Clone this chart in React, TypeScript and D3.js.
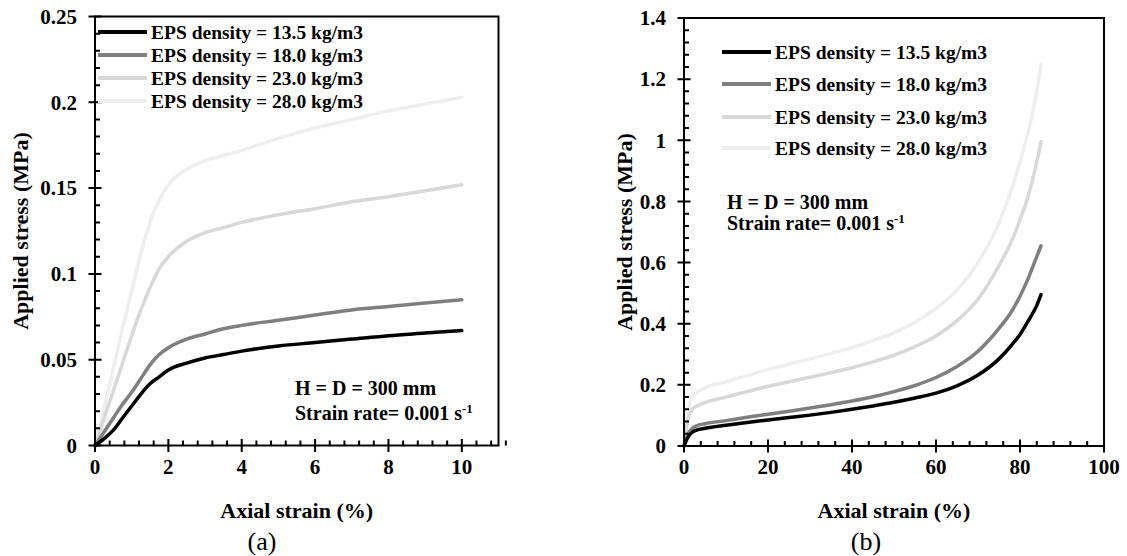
import React from 'react';
import * as d3 from 'd3';

const seriesNames = [
  'EPS density = 13.5 kg/m3',
  'EPS density = 18.0 kg/m3',
  'EPS density = 23.0 kg/m3',
  'EPS density = 28.0 kg/m3',
];
const seriesColors = ['#000000', '#7f7f7f', '#d8d8d8', '#eeeeee'];
const AXIS_COLOR = '#000000';

// Panel (a): small strain range
const strainA = [0, 0.25, 0.5, 0.75, 1.0, 1.25, 1.5, 1.75, 2, 2.5, 3, 3.5, 4, 5, 6, 7, 8, 9, 10];
const stressA135 = [0, 0.004, 0.009, 0.016, 0.023, 0.030, 0.036, 0.040, 0.044, 0.048, 0.051, 0.053, 0.055, 0.058, 0.060, 0.062, 0.064, 0.0655, 0.067];
const stressA180 = [0, 0.008, 0.016, 0.024, 0.031, 0.039, 0.047, 0.053, 0.057, 0.062, 0.065, 0.068, 0.070, 0.073, 0.076, 0.079, 0.081, 0.083, 0.085];
const stressA230 = [0, 0.016, 0.032, 0.048, 0.064, 0.079, 0.092, 0.103, 0.110, 0.119, 0.124, 0.127, 0.130, 0.1345, 0.138, 0.142, 0.145, 0.1485, 0.152];
const stressA280 = [0, 0.022, 0.045, 0.068, 0.090, 0.112, 0.130, 0.143, 0.152, 0.161, 0.166, 0.169, 0.172, 0.179, 0.185, 0.190, 0.195, 0.199, 0.203];

// Panel (b): full strain range
const strainB = [0, 1, 2, 3, 5, 10, 15, 20, 25, 30, 35, 40, 45, 50, 55, 60, 65, 70, 75, 78, 80, 82, 84, 85];
const stressB135 = [0, 0.03, 0.045, 0.052, 0.058, 0.068, 0.077, 0.085, 0.093, 0.101, 0.110, 0.120, 0.131, 0.143, 0.157, 0.173, 0.197, 0.232, 0.285, 0.33, 0.365, 0.41, 0.46, 0.495];
const stressB180 = [0, 0.04, 0.058, 0.066, 0.073, 0.083, 0.094, 0.104, 0.114, 0.124, 0.135, 0.147, 0.161, 0.178, 0.198, 0.224, 0.26, 0.31, 0.385, 0.44, 0.49, 0.55, 0.62, 0.655];
const stressB230 = [0, 0.09, 0.12, 0.13, 0.142, 0.16, 0.178, 0.195, 0.21, 0.225, 0.24, 0.256, 0.275, 0.297, 0.325, 0.36, 0.41, 0.48, 0.59, 0.67, 0.74, 0.82, 0.93, 0.995];
const stressB280 = [0, 0.12, 0.16, 0.175, 0.19, 0.21, 0.23, 0.25, 0.268, 0.285, 0.303, 0.322, 0.345, 0.37, 0.405, 0.45, 0.51, 0.6, 0.73, 0.84, 0.93, 1.03, 1.16, 1.25];

const xTicksA = [0, 2, 4, 6, 8, 10];
const yTicksA = [0, 0.05, 0.1, 0.15, 0.2, 0.25];
const xTicksB = [0, 20, 40, 60, 80, 100];
const yTicksB = [0, 0.2, 0.4, 0.6, 0.8, 1, 1.2, 1.4];

const FONT = '"Liberation Serif", "Times New Roman", serif';

type PanelProps = {
  xDomain: [number, number];
  yDomain: [number, number];
  xRange: [number, number];
  yRange: [number, number];
  xTicks: number[];
  yTicks: number[];
  xMinorStep: number;
  yMinorStep: number;
  xs: number[];
  series: number[][];
  legend: { x0: number; x1: number; tx: number; ys: number[] };
  note: { x: number; y1: number; y2: number };
  yTitleX: number;
  xTitleY: number;
  label: string;
  labelX: number;
};

function Panel(p: PanelProps) {
  const x = d3.scaleLinear().domain(p.xDomain).range(p.xRange);
  const y = d3.scaleLinear().domain(p.yDomain).range(p.yRange);
  const curveGen = d3
    .line<number>()
    .x((_, i) => x(p.xs[i]))
    .y((d) => y(d))
    .curve(d3.curveMonotoneX);
  const nxm = Math.round((p.xDomain[1] - p.xDomain[0]) / p.xMinorStep);
  const nym = Math.round((p.yDomain[1] - p.yDomain[0]) / p.yMinorStep);
  const xMinor = d3.range(0, nxm + 1).map((i) => p.xDomain[0] + i * p.xMinorStep);
  const yMinor = d3.range(0, nym + 1).map((i) => p.yDomain[0] + i * p.yMinorStep);
  const [xl, xr] = p.xRange;
  const [yb, yt] = p.yRange;
  const fmt = (v: number) => String(+v.toFixed(3));
  const tl = 6.5;
  const ml = 5;

  let tickPath = '';
  xMinor.forEach((v) => {
    tickPath += `M${x(v)},${yb}V${yb - ml}`;
  });
  yMinor.forEach((v) => {
    tickPath += `M${xl},${y(v)}H${xl + ml}`;
  });
  p.xTicks.forEach((v) => {
    tickPath += `M${x(v)},${yb - tl}V${yb + tl}`;
  });
  p.yTicks.forEach((v) => {
    tickPath += `M${xl - tl},${y(v)}H${xl + tl}`;
  });

  return (
    <g>
      {p.series
        .map((s, i) => ({ s, i }))
        .reverse()
        .map(({ s, i }) => (
          <path key={'c' + i} d={curveGen(s) || ''} fill="none" stroke={seriesColors[i]} strokeWidth={3.5} strokeLinejoin="round" strokeLinecap="round" />
        ))}
      <path d={`M${xl},${yt}H${xr}V${yb}H${xl}Z`} fill="none" stroke={AXIS_COLOR} strokeWidth={2} />
      <path d={tickPath} fill="none" stroke={AXIS_COLOR} strokeWidth={2} />
      {p.xTicks.map((v, i) => (
        <text key={'xl' + i} x={x(v)} y={yb + 28} textAnchor="middle" fontFamily={FONT} fontWeight="bold" fontSize={21}>
          {fmt(v)}
        </text>
      ))}
      {p.yTicks.map((v, i) => (
        <text key={'yl' + i} x={xl - 18} y={y(v)} dy="0.35em" textAnchor="end" fontFamily={FONT} fontWeight="bold" fontSize={21}>
          {fmt(v)}
        </text>
      ))}
      <text x={(xl + xr) / 2} y={p.xTitleY} dy="0.35em" textAnchor="middle" fontFamily={FONT} fontWeight="bold" fontSize={22}>
        Axial strain (%)
      </text>
      <text
        transform={`translate(${p.yTitleX},${(yb + yt) / 2}) rotate(-90)`}
        dy="0.35em"
        textAnchor="middle"
        fontFamily={FONT}
        fontWeight="bold"
        fontSize={22}
      >
        Applied stress (MPa)
      </text>
      {seriesNames.map((n, i) => (
        <g key={'lg' + i}>
          <path d={`M${p.legend.x0},${p.legend.ys[i]}H${p.legend.x1}`} stroke={seriesColors[i]} strokeWidth={4} fill="none" />
          <text x={p.legend.tx} y={p.legend.ys[i]} dy="0.35em" fontFamily={FONT} fontWeight="bold" fontSize={19.5}>
            {n}
          </text>
        </g>
      ))}
      <text x={p.note.x} y={p.note.y1} dy="0.35em" fontFamily={FONT} fontWeight="bold" fontSize={20}>
        H = D = 300 mm
      </text>
      <text x={p.note.x} y={p.note.y2} dy="0.35em" fontFamily={FONT} fontWeight="bold" fontSize={20}>
        Strain rate= 0.001 s
        <tspan fontSize={13} dy={-7}>-1</tspan>
      </text>
      <text x={p.labelX} y={541} dy="0.35em" textAnchor="middle" fontFamily={FONT} fontSize={26}>
        {p.label}
      </text>
    </g>
  );
}

export default function App() {
  return (
    <svg width={1127} height={556} style={{ position: 'absolute', left: 0, top: 0, background: '#ffffff' }}>
      <rect x={0} y={0} width={1127} height={556} fill="#ffffff" />
      <Panel
        xDomain={[0, 11]}
        yDomain={[0, 0.25]}
        xRange={[95, 498.5]}
        yRange={[445.5, 16.5]}
        xTicks={xTicksA}
        yTicks={yTicksA}
        xMinorStep={0.4}
        yMinorStep={0.01}
        xs={strainA}
        series={[stressA135, stressA180, stressA230, stressA280]}
        legend={{ x0: 98, x1: 147, tx: 151, ys: [32, 55, 78, 101] }}
        note={{ x: 295, y1: 388, y2: 413 }}
        yTitleX={20}
        xTitleY={510}
        label="(a)"
        labelX={262}
      />
      <Panel
        xDomain={[0, 100]}
        yDomain={[0, 1.4]}
        xRange={[684, 1104]}
        yRange={[446, 18]}
        xTicks={xTicksB}
        yTicks={yTicksB}
        xMinorStep={4}
        yMinorStep={0.04}
        xs={strainB}
        series={[stressB135, stressB180, stressB230, stressB280]}
        legend={{ x0: 722, x1: 771, tx: 775, ys: [52, 84, 117, 148] }}
        note={{ x: 727, y1: 202, y2: 223 }}
        yTitleX={624}
        xTitleY={510}
        label="(b)"
        labelX={866}
      />
    </svg>
  );
}
